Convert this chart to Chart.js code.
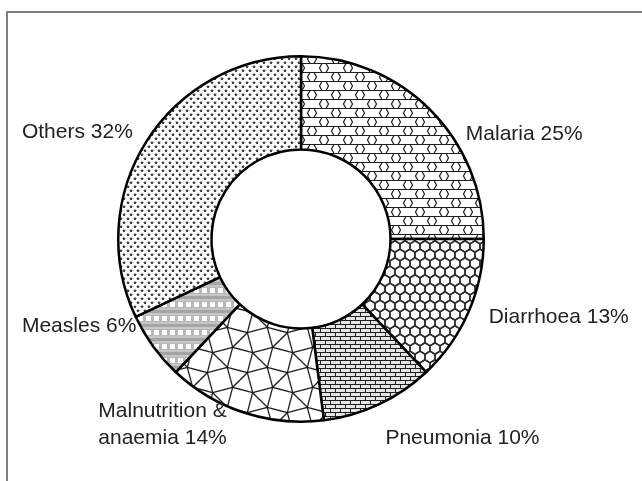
<!DOCTYPE html>
<html><head><meta charset="utf-8">
<script src="https://cdn.jsdelivr.net/npm/chart.js@4/dist/chart.umd.min.js"></script>
<style>
html,body{margin:0;padding:0;background:#fff;}
#wrap{position:relative;width:642px;height:481px;overflow:hidden;}
#frame{position:absolute;left:6px;top:11px;width:700px;height:600px;border-left:2px solid #7f7f7f;border-top:2px solid #7f7f7f;}
canvas{position:absolute;left:0;top:0;}
</style></head><body>
<div id="wrap"><div id="frame"></div><canvas id="c" width="642" height="481"></canvas></div>
<script>
// ---- data ----
const categories = ['Malaria', 'Diarrhoea', 'Pneumonia', 'Malnutrition &\nanaemia', 'Measles', 'Others'];
const values = [25, 13, 10, 14, 6, 32];
const labelTexts = categories.map((c, i) => (c + ' ' + values[i] + '%').split('\n'));

// ---- patterns ----
function mk(w, h) { const c = document.createElement('canvas'); c.width = w; c.height = h; return c; }
function chainPattern() {
  // continuous horizontal lines with small hexagonal "bead" joints, staggered rows
  const W = 24, H = 9, hw = 4.5, a = 2.5;
  const c = mk(W, 2 * H), g = c.getContext('2d');
  g.fillStyle = '#fff'; g.fillRect(0, 0, W, 2 * H);
  g.strokeStyle = '#1e1e1e'; g.lineWidth = 1.2;
  for (let r = -1; r <= 2; r++) {
    const top = r * H + 0.5, bot = top + H, mid = top + H / 2;
    g.beginPath(); g.moveTo(-5, top); g.lineTo(W + 5, top); g.stroke();
    const off = (Math.abs(r) % 2) ? W / 2 : 0;
    for (let k = -1; k <= 2; k++) {
      const xj = k * W + off;
      g.beginPath();
      g.moveTo(xj - hw + a, top); g.lineTo(xj - hw, mid); g.lineTo(xj - hw + a, bot);
      g.moveTo(xj + hw - a, top); g.lineTo(xj + hw, mid); g.lineTo(xj + hw - a, bot);
      g.stroke();
    }
  }
  return g.createPattern(c, 'repeat');
}
function hexPattern(tileW, tileH, w, a, lw, col, transpose) {
  const cw = transpose ? tileH : tileW, ch = transpose ? tileW : tileH;
  const c = mk(cw, ch), g = c.getContext('2d');
  g.fillStyle = '#fff'; g.fillRect(0, 0, cw, ch);
  if (transpose) g.setTransform(0, 1, 1, 0, 0, 0);
  g.strokeStyle = col; g.lineWidth = lw;
  const hh = tileH / 2;
  for (let r = -2; r <= 4; r++) {
    for (let k = -2; k <= 3; k++) {
      const cx = k * tileW + (Math.abs(r) % 2 ? tileW / 2 : 0), cy = r * hh;
      g.beginPath();
      g.moveTo(cx - w / 2, cy);
      g.lineTo(cx - w / 2 + a, cy - hh);
      g.lineTo(cx + w / 2 - a, cy - hh);
      g.lineTo(cx + w / 2, cy);
      g.lineTo(cx + w / 2 - a, cy + hh);
      g.lineTo(cx - w / 2 + a, cy + hh);
      g.closePath(); g.stroke();
    }
  }
  return g.createPattern(c, 'repeat');
}
function brickPattern() {
  const c = mk(10, 8), g = c.getContext('2d');
  g.fillStyle = '#e6e6e6'; g.fillRect(0, 0, 10, 8);
  g.fillStyle = '#1e1e1e';
  g.fillRect(0, 0, 10, 1); g.fillRect(0, 4, 10, 1);
  g.fillRect(0, 0, 1, 4); g.fillRect(5, 4, 1, 4);
  return g.createPattern(c, 'repeat');
}
function snubPattern() {
  const L = 40, s = L / (2 * Math.cos(Math.PI / 12));
  const c = mk(L, L), g = c.getContext('2d');
  g.fillStyle = '#fff'; g.fillRect(0, 0, L, L);
  const pts = [];
  const addSq = (cx, cy, th) => {
    for (let q = 0; q < 4; q++) {
      const ang = Math.PI / 4 + th + q * Math.PI / 2;
      pts.push([cx + s / Math.SQRT2 * Math.cos(ang), cy + s / Math.SQRT2 * Math.sin(ang)]);
    }
  };
  for (let i = -1; i <= 2; i++) for (let j = -1; j <= 2; j++) {
    addSq(i * L, j * L, Math.PI / 12);
    addSq((i + 0.5) * L, (j + 0.5) * L, -Math.PI / 12);
  }
  const uniq = [];
  pts.forEach(p => { if (!uniq.some(u => Math.hypot(u[0] - p[0], u[1] - p[1]) < 0.5)) uniq.push(p); });
  g.strokeStyle = '#1e1e1e'; g.lineWidth = 1.3;
  for (let i = 0; i < uniq.length; i++) for (let j = i + 1; j < uniq.length; j++) {
    const d = Math.hypot(uniq[i][0] - uniq[j][0], uniq[i][1] - uniq[j][1]);
    if (Math.abs(d - s) < 0.5) {
      g.beginPath(); g.moveTo(uniq[i][0], uniq[i][1]); g.lineTo(uniq[j][0], uniq[j][1]); g.stroke();
    }
  }
  return g.createPattern(c, 'repeat');
}
function measlesPattern() {
  const c = mk(8, 14), g = c.getContext('2d');
  g.fillStyle = '#c6c6c6'; g.fillRect(0, 0, 8, 14);
  g.fillStyle = '#a4a4a4'; g.fillRect(0, 2, 8, 3);
  g.fillStyle = '#b8b8b8'; g.fillRect(0, 7, 8, 7);
  g.fillStyle = '#fff'; g.fillRect(2, 8, 5, 5);
  return g.createPattern(c, 'repeat');
}
function dotPattern() {
  const c = mk(7, 8), g = c.getContext('2d');
  g.fillStyle = '#fff'; g.fillRect(0, 0, 7, 8);
  const star = (x, y) => {
    g.fillStyle = '#444'; g.fillRect(x, y, 2, 2);
    g.fillStyle = '#b0b0b0'; g.fillRect(x - 1, y, 1, 1); g.fillRect(x + 2, y, 1, 1); g.fillRect(x, y - 1, 2, 1);
  };
  star(1, 2); star(4, 6);
  return g.createPattern(c, 'repeat');
}
const fills = [
  chainPattern(),
  hexPattern(17, 10, 11.5, 3, 1.5, '#2e2e2e', true),
  brickPattern(),
  snubPattern(),
  measlesPattern(),
  dotPattern()
];

// ---- labels plugin ----
const sliceLabels = {
  id: 'sliceLabels',
  afterDatasetsDraw(chart, args, opts) {
    const meta = chart.getDatasetMeta(0);
    const a0 = meta.data[0];
    const cx = a0.x, cy = a0.y, R = a0.outerRadius;
    const ctx = chart.ctx;
    ctx.save();
    ctx.font = opts.font;
    ctx.fillStyle = opts.color;
    ctx.textAlign = 'left';
    ctx.textBaseline = 'middle';
    labelTexts.forEach((lines, i) => {
      const p = opts.anchors[i];
      const x = cx + p[0] * R, y = cy + p[1] * R;
      lines.forEach((ln, j) => ctx.fillText(ln, x, y + j * opts.lineHeight));
    });
    ctx.restore();
  }
};

new Chart(document.getElementById('c'), {
  type: 'doughnut',
  data: {
    labels: categories,
    datasets: [{
      data: values,
      backgroundColor: fills,
      borderColor: '#000',
      borderWidth: 2.5,
      borderAlign: 'center'
    }]
  },
  options: {
    responsive: false,
    animation: false,
    cutout: '49%',
    layout: { padding: { left: 117, right: 157, top: 54, bottom: 57 } },
    plugins: {
      legend: { display: false },
      tooltip: { enabled: false },
      sliceLabels: {
        font: '21px "Liberation Sans", Arial, sans-serif',
        color: '#222',
        lineHeight: 27,
        anchors: [
          [0.902, -0.575],
          [1.027, 0.43],
          [0.462, 1.09],
          [-1.109, 0.94],
          [-1.527, 0.478],
          [-1.527, -0.587]
        ]
      }
    }
  },
  plugins: [sliceLabels]
});
</script>
</body></html>
